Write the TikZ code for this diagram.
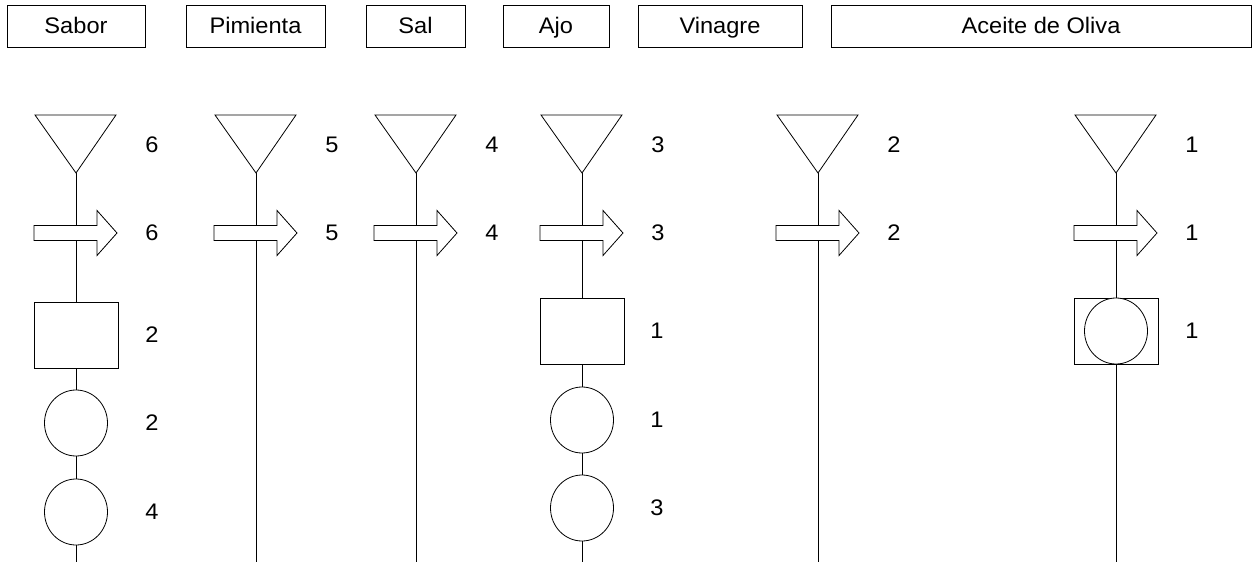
\documentclass[tikz,border=0pt]{standalone}
\usepackage{fontspec}
\setmainfont{Liberation Sans}[FakeStretch=1.05]
\usetikzlibrary{shapes.geometric}
\begin{document}
\begin{tikzpicture}[x=1pt,y=-1pt,line width=0.8pt,
  header/.style={draw, rectangle, minimum height=42pt, inner sep=0pt,
    text height=16pt, text depth=0pt,
    font=\fontsize{22.5}{25}\selectfont},
  qty/.style={inner sep=0pt, font=\fontsize{22.5}{25}\selectfont},
  opbox/.style={draw, fill=white, rectangle, minimum width=84pt,
    minimum height=66pt, inner sep=0pt},
  opcirc/.style={draw, fill=white, ellipse, minimum width=63pt,
    minimum height=66pt, inner sep=0pt},
  storage/.style={draw, fill=white},
  transport/.style={draw, fill=white},
  flowline/.style={draw},
]
\useasboundingbox (0,0) rectangle (1253,562);

% column headings
\node[header, minimum width=138pt] (h1) at (76,26)    {Sabor};
\node[header, minimum width=139pt] (h2) at (255.5,26) {Pimienta};
\node[header, minimum width=99pt]  (h3) at (415.5,26) {Sal};
\node[header, minimum width=106pt] (h4) at (556,26)   {Ajo};
\node[header, minimum width=164pt] (h5) at (720,26)   {Vinagre};
\node[header, minimum width=420pt] (h6) at (1041,26)  {Aceite de Oliva};

% each column: flow line, storage triangle, transport arrow, two quantities
\foreach \c/\x/\n in {1/76/6, 2/256/5, 3/416/4, 4/582/3, 5/818/2, 6/1116/1} {
  \coordinate (t\c) at (\x,173);
  \coordinate (b\c) at (\x,562);
  \path[flowline] (t\c) -- (b\c);
  \path[storage] (\x-41,115) -- (\x+40,115) -- (t\c) -- cycle;
  \path[transport] (\x-42,225.5) -- (\x+21,225.5) -- (\x+21,210.5)
    -- (\x+41,233) -- (\x+21,255.5) -- (\x+21,240.5) -- (\x-42,240.5) -- cycle;
  \node[qty] (s\c) at (\x+76,145) {\n};
  \node[qty] (a\c) at (\x+76,233) {\n};
}

% Sabor: operation, two inspections
\node[opbox]  (op1) at (76,335) {};
\node[opcirc] (ia1) at (76,423) {};
\node[opcirc] (ib1) at (76,512) {};
\node[qty] (qop1) at (152,335) {2};
\node[qty] (qia1) at (152,423) {2};
\node[qty] (qib1) at (152,512) {4};

% Ajo: operation, two inspections
\node[opbox]  (op4) at (582,331) {};
\node[opcirc] (ia4) at (582,420) {};
\node[opcirc] (ib4) at (582,508) {};
\node[qty] (qop4) at (657,331) {1};
\node[qty] (qia4) at (657,420) {1};
\node[qty] (qib4) at (657,508) {3};

% Aceite de Oliva: combined operation and inspection
\node[opbox]  (op6) at (1116,331) {};
\node[opcirc] (ia6) at (1116,331) {};
\node[qty] (qop6) at (1192,331) {1};
\end{tikzpicture}
\end{document}
